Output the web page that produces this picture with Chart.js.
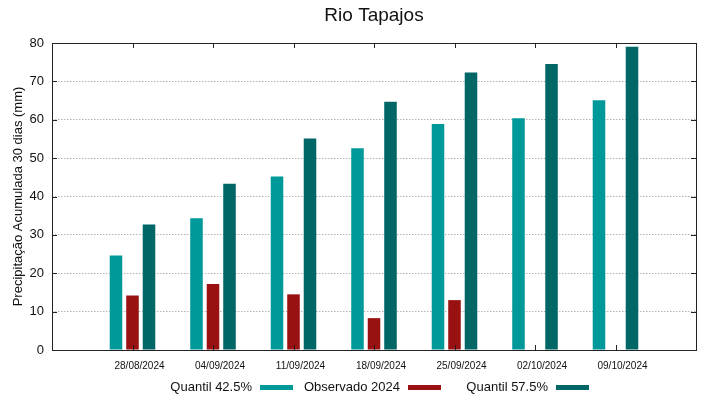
<!DOCTYPE html>
<html>
<head>
<meta charset="utf-8">
<script src="https://cdn.jsdelivr.net/npm/chart.js@4.4.0/dist/chart.umd.min.js"></script>
<style>
  html, body { margin: 0; padding: 0; background: #fff; }
  canvas { display: block; }
</style>
</head>
<body>
<canvas id="rioChart" width="719" height="399"></canvas>
<script>
const dates = ["28/08/2024", "04/09/2024", "11/09/2024", "18/09/2024", "25/09/2024", "02/10/2024", "09/10/2024"];
const quantil425 = [24.6, 34.3, 45.2, 52.6, 58.9, 60.4, 65.1];
const observado2024 = [14.2, 17.2, 14.5, 8.3, 13.0, null, null];
const quantil575 = [32.7, 43.3, 55.1, 64.7, 72.3, 74.5, 79.0];
const yTicks = [0, 10, 20, 30, 40, 50, 60, 70, 80];

const seriesNames = ["Quantil 42.5%", "Observado 2024", "Quantil 57.5%"];
const colors = ["#009999", "#991111", "#006666"];
const FONT = "'Liberation Sans', Arial, sans-serif";

// gnuplot-like range: one empty slot on each side
const pad = arr => [null, ...arr, null];
const labels = ["", ...dates, ""];

const framePlugin = {
  id: "frame",
  afterDraw(chart) {
    const { ctx, chartArea: a, scales } = chart;
    ctx.save();
    ctx.strokeStyle = "#222";
    ctx.lineWidth = 1;
    ctx.strokeRect(Math.round(a.left) + 0.5, Math.round(a.top) + 0.5,
      Math.round(a.right - a.left), Math.round(a.bottom - a.top));
    ctx.beginPath();
    for (let i = 1; i <= dates.length; i++) {
      const x = Math.round(scales.x.getPixelForValue(i)) + 0.5;
      ctx.moveTo(x, a.bottom); ctx.lineTo(x, a.bottom - 5);
      ctx.moveTo(x, a.top); ctx.lineTo(x, a.top + 5);
    }
    yTicks.forEach(v => {
      const y = Math.round(scales.y.getPixelForValue(v)) + 0.5;
      ctx.moveTo(a.left, y); ctx.lineTo(a.left + 5, y);
      ctx.moveTo(a.right, y); ctx.lineTo(a.right - 5, y);
    });
    ctx.stroke();

    // title
    ctx.fillStyle = "#111";
    ctx.font = "19px " + FONT;
    ctx.textAlign = "center";
    ctx.textBaseline = "middle";
    ctx.fillText("Rio Tapajos", (a.left + a.right) / 2, 16);

    // legend: text then sample, like gnuplot
    ctx.font = "13px " + FONT;
    ctx.textAlign = "right";
    chart.data.datasets.forEach((ds, i) => {
      const sx = 260 + i * 148;
      ctx.fillStyle = "#111";
      ctx.fillText(ds.label, sx - 8, 387);
      ctx.fillStyle = ds.backgroundColor;
      ctx.fillRect(sx, 385, 33, 5);
    });
    ctx.restore();
  }
};

new Chart(document.getElementById("rioChart").getContext("2d"), {
  type: "bar",
  data: {
    labels: labels,
    datasets: [
      { label: seriesNames[0], data: pad(quantil425), backgroundColor: colors[0] },
      { label: seriesNames[1], data: pad(observado2024), backgroundColor: colors[1] },
      { label: seriesNames[2], data: pad(quantil575), backgroundColor: colors[2] }
    ]
  },
  options: {
    responsive: false,
    animation: false,
    categoryPercentage: 0.615,
    barPercentage: 0.76,
    layout: { padding: { top: 43, right: 23, bottom: 0, left: 0 } },
    plugins: {
      legend: { display: false },
      title: { display: false },
      tooltip: { enabled: false }
    },
    scales: {
      x: {
        offset: false,
        grid: { display: false, drawTicks: false },
        border: { display: false },
        ticks: {
          autoSkip: false,
          maxRotation: 0,
          padding: 10,
          labelOffset: 7,
          color: "#111",
          font: { family: FONT, size: 10 }
        },
        afterFit: s => { s.height = 49; }
      },
      y: {
        min: 0,
        max: 80,
        grid: { color: "#b4b4b4", drawTicks: false },
        border: { display: false, dash: [1.5, 1.5] },
        ticks: {
          stepSize: 10,
          padding: 8,
          color: "#111",
          font: { family: FONT, size: 13 }
        },
        title: {
          display: true,
          text: "Precipitação Acumulada 30 dias (mm)",
          color: "#111",
          padding: { top: 11, bottom: 0 },
          font: { family: FONT, size: 13 }
        },
        afterFit: s => { s.width = 52; }
      }
    }
  },
  plugins: [framePlugin]
});
</script>
</body>
</html>
